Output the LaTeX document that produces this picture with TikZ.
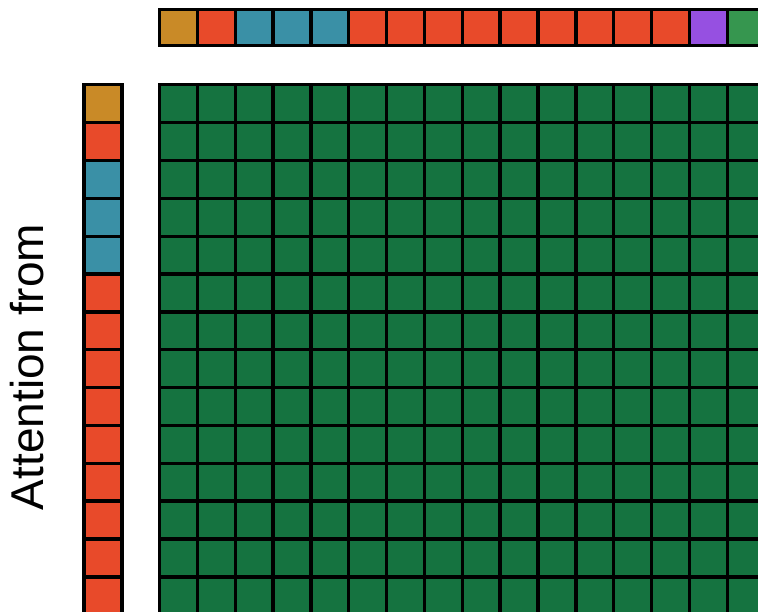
\documentclass[tikz,border=0pt]{standalone}
\usepackage{fontspec}
\setmainfont{Liberation Sans}
\usetikzlibrary{positioning}
\definecolor{tokOrange}{HTML}{C98A27}
\definecolor{tokRed}{HTML}{E84A2A}
\definecolor{tokBlue}{HTML}{3A90A6}
\definecolor{tokPurple}{HTML}{9650E1}
\definecolor{tokGreen}{HTML}{36964F}
\definecolor{attnGreen}{HTML}{157340}

\begin{document}
\begin{tikzpicture}[x=0.02cm,y=-0.02cm,
    cell/.style={draw=black,line width=1.9pt,fill=#1,inner sep=0pt,outer sep=0pt,
                 minimum width=0.757cm,minimum height=0.757cm,anchor=north west},
    keycell/.style={cell=#1,minimum height=0.73cm},
    label/.style={font=\fontsize{26.2}{30}\selectfont,rotate=90,anchor=base}]
    \useasboundingbox (0,0) rectangle (758,612);
    \clip (0,0) rectangle (758,612);
    % tokens attended to
    \foreach \c [count=\i from 0] in {tokOrange,tokRed,tokBlue,tokBlue,tokBlue,tokRed,tokRed,tokRed,
                                      tokRed,tokRed,tokRed,tokRed,tokRed,tokRed,tokPurple,tokGreen}
        \node[keycell=\c] (key-\i) at ({159.5+37.85*\i},9.2) {};
    % tokens attending
    \foreach \c [count=\j from 0] in {tokOrange,tokRed,tokBlue,tokBlue,tokBlue,tokRed,tokRed,
                                      tokRed,tokRed,tokRed,tokRed,tokRed,tokRed,tokRed}
        \node[cell=\c] (query-\j) at (84,{84.8+37.85*\j}) {};
    % attention matrix
    \foreach \j in {0,...,13}
        \foreach \i in {0,...,15}
            \node[cell=attnGreen] (attn-\j-\i) at ({159.5+37.85*\i},{84.8+37.85*\j}) {};
    \node[label] (from) at (43,367) {Attention from};
\end{tikzpicture}
\end{document}
